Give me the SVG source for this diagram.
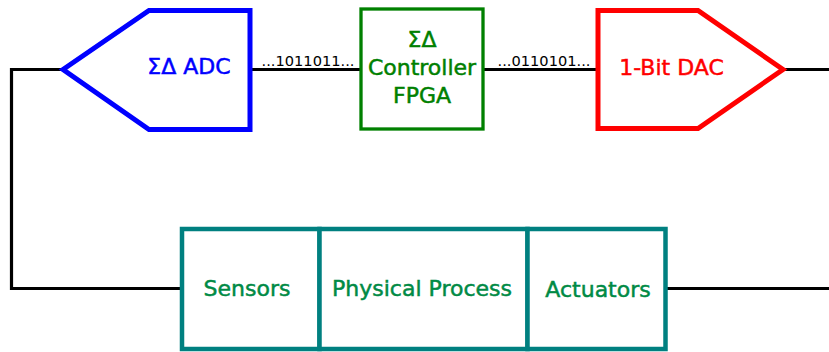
<svg xmlns="http://www.w3.org/2000/svg" width="829" height="352" viewBox="0 0 829 352">
<style>
text{font-family:"DejaVu Sans",Verdana,sans-serif;text-anchor:middle}
.lbl{font-size:22px;stroke-width:0.5}
.bits{font-size:14.6px;fill:#000}
.wire{fill:none;stroke:#000;stroke-width:3.2}
.blk{fill:#fff;stroke:#008080;stroke-width:4.5}
.blkt{fill:#008a45;stroke:#008a45}
</style>
<rect width="829" height="352" fill="#fff"/>
<g id="connectors">
<polyline class="wire" points="63,69.5 11.5,69.5 11.5,288.5 182,288.5"/>
<line class="wire" x1="250" y1="69.5" x2="361" y2="69.5"/>
<line class="wire" x1="483" y1="69.5" x2="598" y2="69.5"/>
<line class="wire" x1="784" y1="69.5" x2="829" y2="69.5"/>
<line class="wire" x1="665.5" y1="288.5" x2="829" y2="288.5"/>
<text class="bits" x="308" y="66">...1011011...</text>
<text class="bits" x="544" y="66">...0110101...</text>
</g>
<g id="adc">
<polygon points="63,69.5 149,10.5 250,10.5 250,129.5 149,129.5" fill="#fff" stroke="#0000ff" stroke-width="5" stroke-linejoin="miter"/>
<text class="lbl" x="189" y="74" fill="#0000ff" stroke="#0000ff">ΣΔ ADC</text>
</g>
<g id="controller">
<rect x="361" y="9" width="122" height="120" fill="#fff" stroke="#008000" stroke-width="3.3"/>
<text class="lbl" x="422" y="47" fill="#008000" stroke="#008000">ΣΔ</text>
<text class="lbl" x="422" y="75" fill="#008000" stroke="#008000">Controller</text>
<text class="lbl" x="422" y="103" fill="#008000" stroke="#008000">FPGA</text>
</g>
<g id="dac">
<polygon points="598,10.5 698,10.5 783,69.5 698,128.5 598,128.5" fill="#fff" stroke="#ff0000" stroke-width="5"/>
<text class="lbl" x="671.5" y="75" fill="#ff0000" stroke="#ff0000">1-Bit DAC</text>
</g>
<g id="sensors">
<rect class="blk" x="182" y="229" width="137.5" height="120"/>
<text class="lbl blkt" x="247" y="296">Sensors</text>
</g>
<g id="process">
<rect class="blk" x="319.5" y="229" width="208" height="120"/>
<text class="lbl blkt" x="422" y="296">Physical Process</text>
</g>
<g id="actuators">
<rect class="blk" x="527.5" y="229" width="138" height="120"/>
<text class="lbl blkt" x="598" y="297">Actuators</text>
</g>
</svg>
